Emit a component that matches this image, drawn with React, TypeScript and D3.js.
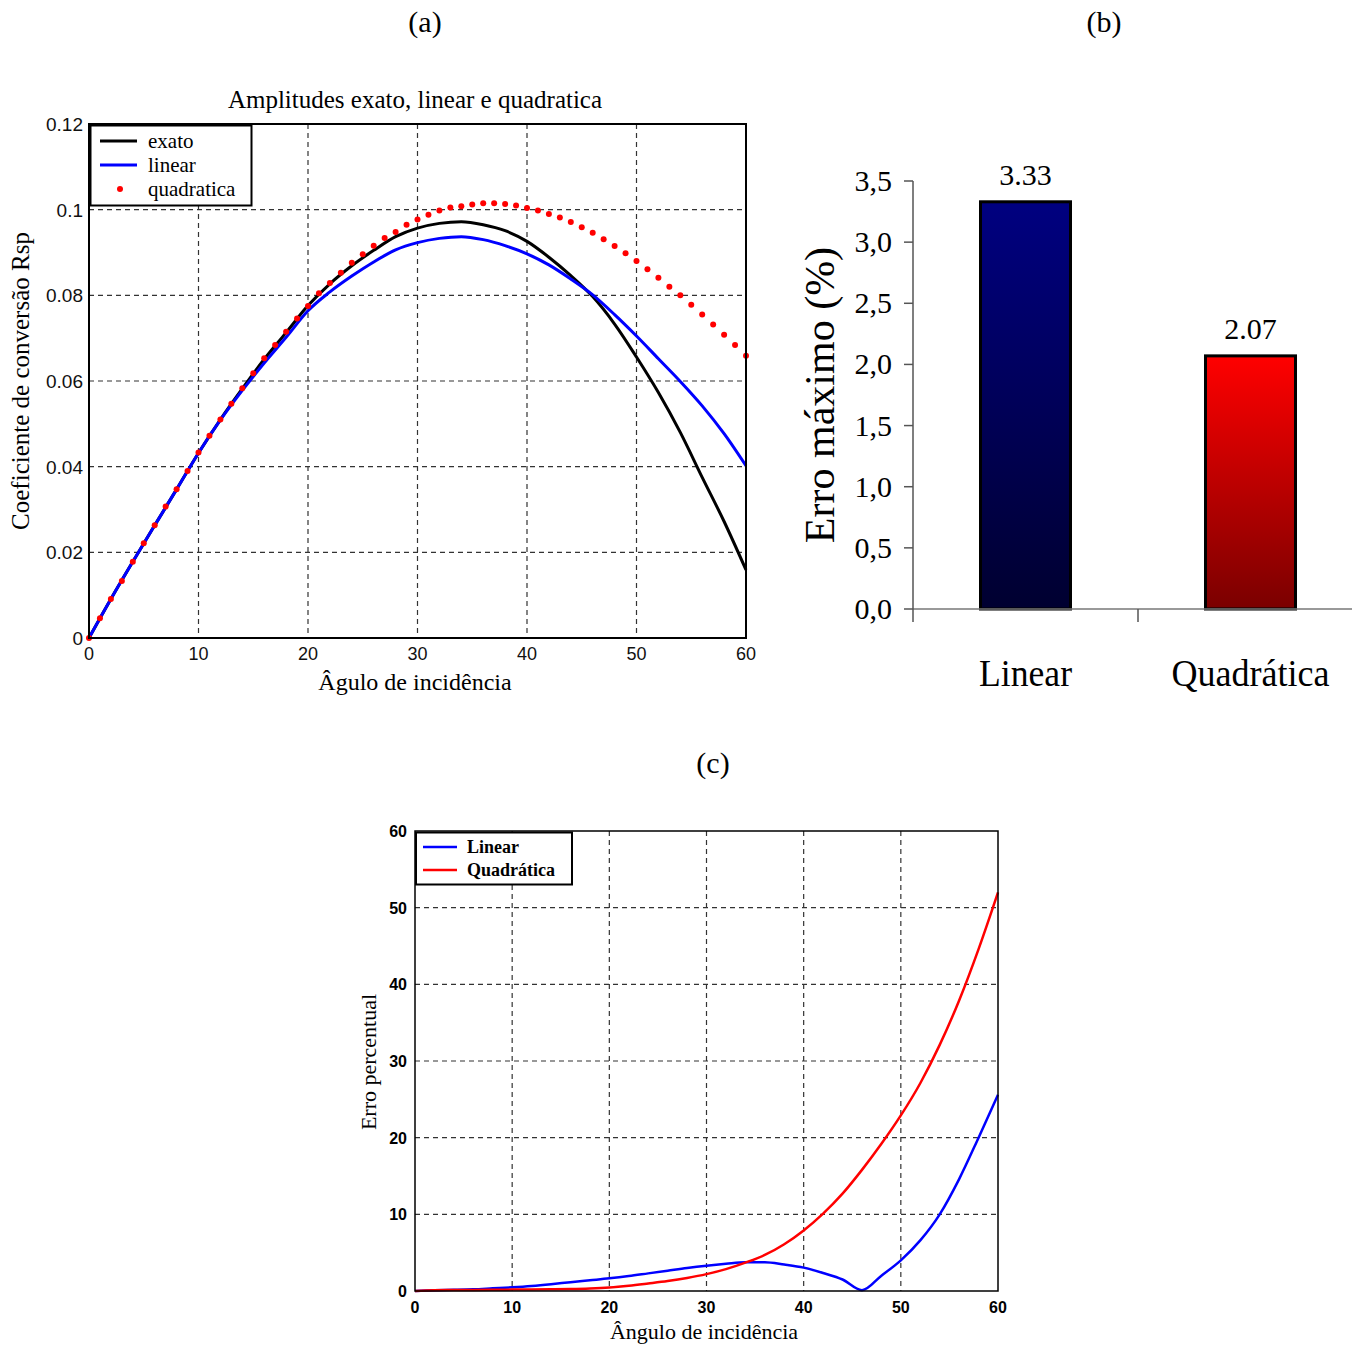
import React from 'react';
import * as d3 from 'd3';

const W = 1358;
const H = 1349;

// (a) amplitudes
const anglesA = [0, 2, 4, 6, 8, 10, 12, 14, 16, 18, 20, 22, 24, 26, 28, 30, 32, 34, 36, 38, 40, 42, 44, 46, 48, 50, 52, 54, 56, 58, 60];
const exato = [0, 0.0091, 0.0178, 0.0263, 0.0347, 0.0432, 0.051, 0.0582, 0.0651, 0.0713, 0.0776, 0.0827, 0.0869, 0.0905, 0.0937, 0.0957, 0.0968, 0.0972, 0.0965, 0.0951, 0.0926, 0.0889, 0.0846, 0.0797, 0.0733, 0.0656, 0.0573, 0.048, 0.0375, 0.0272, 0.0159];
const linear = [0, 0.0091, 0.0178, 0.0263, 0.0347, 0.0432, 0.0509, 0.0578, 0.0642, 0.0702, 0.0764, 0.0808, 0.0845, 0.0878, 0.0906, 0.0923, 0.0933, 0.0937, 0.093, 0.0916, 0.0897, 0.0871, 0.0838, 0.0801, 0.0755, 0.0705, 0.0652, 0.0599, 0.0542, 0.0477, 0.0402];
const anglesQ = [0, 1, 2, 3, 4, 5, 6, 7, 8, 9, 10, 11, 12, 13, 14, 15, 16, 17, 18, 19, 20, 21, 22, 23, 24, 25, 26, 27, 28, 29, 30, 31, 32, 33, 34, 35, 36, 37, 38, 39, 40, 41, 42, 43, 44, 45, 46, 47, 48, 49, 50, 51, 52, 53, 54, 55, 56, 57, 58, 59, 60];
const quadratica = [0, 0.0046, 0.0091, 0.0133, 0.0178, 0.0221, 0.0263, 0.0307, 0.0347, 0.039, 0.0433, 0.0472, 0.051, 0.0547, 0.0583, 0.0618, 0.0653, 0.0684, 0.0715, 0.0746, 0.0775, 0.0805, 0.0829, 0.0853, 0.0876, 0.0896, 0.0916, 0.0934, 0.0948, 0.0965, 0.0977, 0.0988, 0.0998, 0.1005, 0.1008, 0.1012, 0.1015, 0.1015, 0.1013, 0.101, 0.1004, 0.0998, 0.099, 0.0982, 0.0971, 0.0959, 0.0946, 0.0931, 0.0915, 0.0898, 0.088, 0.0861, 0.0841, 0.082, 0.08, 0.0778, 0.0755, 0.0732, 0.0708, 0.0684, 0.0659];
const ticksAx = [0, 10, 20, 30, 40, 50, 60];
const ticksAy = [0, 0.02, 0.04, 0.06, 0.08, 0.1, 0.12];
const tickLabelsAy = ['0', '0.02', '0.04', '0.06', '0.08', '0.1', '0.12'];

// (b) maximum error
const categories = ['Linear', 'Quadrática'];
const maxError = [3.33, 2.07];
const ticksB = [0, 0.5, 1, 1.5, 2, 2.5, 3, 3.5];
const tickLabelsB = ['0,0', '0,5', '1,0', '1,5', '2,0', '2,5', '3,0', '3,5'];

// (c) percent error
const anglesC = [0, 2, 4, 6, 8, 10, 12, 14, 16, 18, 20, 22, 24, 26, 28, 30, 32, 34, 36, 38, 40, 42, 44, 46, 48, 50, 52, 54, 56, 58, 60];
const errLinear = [0, 0.1, 0.15, 0.22, 0.35, 0.48, 0.65, 0.88, 1.15, 1.4, 1.65, 1.95, 2.3, 2.65, 3.0, 3.3, 3.55, 3.75, 3.75, 3.45, 3.05, 2.35, 1.5, 0.1, 2.0, 4.0, 6.6, 10.0, 14.6, 20.0, 25.6];
const errQuad = [0, 0.1, 0.12, 0.14, 0.16, 0.18, 0.2, 0.22, 0.25, 0.32, 0.45, 0.68, 0.98, 1.3, 1.7, 2.2, 2.85, 3.7, 4.7, 6.1, 7.9, 10.1, 12.7, 15.8, 19.2, 22.9, 27.1, 32.1, 37.9, 44.6, 52.0];
const ticksCx = [0, 10, 20, 30, 40, 50, 60];
const ticksCy = [0, 10, 20, 30, 40, 50, 60];

const serif = '"Liberation Serif", "Times New Roman", serif';
const sans = '"Liberation Sans", Arial, sans-serif';
const dash = { stroke: '#333', strokeWidth: 1.2, strokeDasharray: '5,4' };

function PanelA() {
  const x = d3.scaleLinear([0, 60], [89, 746]);
  const y = d3.scaleLinear([0, 0.12], [638, 124]);
  const line = d3.line<number>().x((d, i) => x(anglesA[i])).y(d => y(d)).curve(d3.curveMonotoneX);
  return (
    <g>
      {ticksAx.slice(1, -1).map(t => (
        <line key={'gx' + t} x1={x(t)} x2={x(t)} y1={124} y2={638} {...dash} />
      ))}
      {ticksAy.slice(1, -1).map(t => (
        <line key={'gy' + t} x1={89} x2={746} y1={y(t)} y2={y(t)} {...dash} />
      ))}
      <path d={line(exato) || ''} fill="none" stroke="#000" strokeWidth={3} />
      <path d={line(linear) || ''} fill="none" stroke="#0000ff" strokeWidth={3} />
      {quadratica.map((v, i) => (
        <circle key={'q' + i} cx={x(anglesQ[i])} cy={y(v)} r={3} fill="#ff0000" />
      ))}
      <rect x={89} y={124} width={657} height={514} fill="none" stroke="#000" strokeWidth={2} />
      {ticksAx.map(t => (
        <text key={'tx' + t} x={x(t)} y={660} textAnchor="middle" fontFamily={sans} fontSize={18} fill="#111">{t}</text>
      ))}
      {ticksAy.map((t, i) => (
        <text key={'ty' + t} x={83} y={y(t) + 7} textAnchor="end" fontFamily={sans} fontSize={19} fill="#111">{tickLabelsAy[i]}</text>
      ))}
      <text x={415} y={108} textAnchor="middle" fontFamily={serif} fontSize={25}>Amplitudes exato, linear e quadratica</text>
      <text x={415} y={690} textAnchor="middle" fontFamily={serif} fontSize={24}>Âgulo de incidência</text>
      <text transform="translate(29,381) rotate(-90)" textAnchor="middle" fontFamily={serif} fontSize={25}>Coeficiente de conversão Rsp</text>
      <g>
        <rect x={90.5} y={125.5} width={161} height={80} fill="#fff" stroke="#000" strokeWidth={2} />
        <line x1={100} x2={137} y1={141} y2={141} stroke="#000" strokeWidth={3} />
        <line x1={100} x2={137} y1={165} y2={165} stroke="#0000ff" strokeWidth={3} />
        <circle cx={120} cy={189} r={3} fill="#ff0000" />
        <text x={148} y={148} fontFamily={serif} fontSize={21}>exato</text>
        <text x={148} y={172} fontFamily={serif} fontSize={21}>linear</text>
        <text x={148} y={196} fontFamily={serif} fontSize={21}>quadratica</text>
      </g>
    </g>
  );
}

function PanelB() {
  const x = d3.scaleBand<string>().domain(categories).range([913, 1363]).paddingInner(0.6).paddingOuter(0.3);
  const y = d3.scaleLinear([0, 3.5], [609, 181]);
  const fills = ['url(#gradBlue)', 'url(#gradRed)'];
  const lengths = [93, 158];
  return (
    <g>
      <defs>
        <linearGradient id="gradBlue" x1="0" y1="0" x2="0" y2="1">
          <stop offset="0" stopColor="#000080" />
          <stop offset="1" stopColor="#000030" />
        </linearGradient>
        <linearGradient id="gradRed" x1="0" y1="0" x2="0" y2="1">
          <stop offset="0" stopColor="#ff0000" />
          <stop offset="1" stopColor="#7a0000" />
        </linearGradient>
      </defs>
      {categories.map((c, i) => (
        <g key={c}>
          <rect x={x(c)} y={y(maxError[i])} width={x.bandwidth()} height={y(0) - y(maxError[i])} fill={fills[i]} stroke="#000" strokeWidth={3} />
          <text x={(x(c) || 0) + x.bandwidth() / 2} y={y(maxError[i]) - 17} textAnchor="middle" fontFamily={serif} fontSize={30}>{maxError[i].toFixed(2)}</text>
          <text x={(x(c) || 0) + x.bandwidth() / 2} y={686} textAnchor="middle" fontFamily={serif} fontSize={38} textLength={lengths[i]} lengthAdjust="spacingAndGlyphs">{c}</text>
        </g>
      ))}
      <line x1={913} x2={1352} y1={609} y2={609} stroke="#777" strokeWidth={1.5} />
      <line x1={913} x2={913} y1={181} y2={622} stroke="#555" strokeWidth={1.5} />
      <line x1={1138} x2={1138} y1={609} y2={622} stroke="#555" strokeWidth={1.5} />
      {ticksB.map((t, i) => (
        <g key={'b' + t}>
          <line x1={904} x2={913} y1={y(t)} y2={y(t)} stroke="#555" strokeWidth={1.5} />
          <text x={892} y={y(t) + 10} textAnchor="end" fontFamily={serif} fontSize={30}>{tickLabelsB[i]}</text>
        </g>
      ))}
      <text transform="translate(834,395) rotate(-90)" textAnchor="middle" fontFamily={serif} fontSize={42}>Erro máximo (%)</text>
    </g>
  );
}

function PanelC() {
  const x = d3.scaleLinear([0, 60], [415, 998]);
  const y = d3.scaleLinear([0, 60], [1291, 831]);
  const line = d3.line<number>().x((d, i) => x(anglesC[i])).y(d => y(d)).curve(d3.curveMonotoneX);
  return (
    <g>
      {ticksCx.slice(1, -1).map(t => (
        <line key={'cx' + t} x1={x(t)} x2={x(t)} y1={831} y2={1291} {...dash} />
      ))}
      {ticksCy.slice(1, -1).map(t => (
        <line key={'cy' + t} x1={415} x2={998} y1={y(t)} y2={y(t)} {...dash} />
      ))}
      <path d={line(errLinear) || ''} fill="none" stroke="#0000ff" strokeWidth={2.5} />
      <path d={line(errQuad) || ''} fill="none" stroke="#ff0000" strokeWidth={2.5} />
      <rect x={415} y={831} width={583} height={460} fill="none" stroke="#000" strokeWidth={1.5} />
      {ticksCx.map(t => (
        <text key={'tcx' + t} x={x(t)} y={1313} textAnchor="middle" fontFamily={sans} fontWeight="bold" fontSize={16}>{t}</text>
      ))}
      {ticksCy.map(t => (
        <text key={'tcy' + t} x={407} y={y(t) + 6} textAnchor="end" fontFamily={sans} fontWeight="bold" fontSize={16}>{t}</text>
      ))}
      <text x={704} y={1339} textAnchor="middle" fontFamily={serif} fontSize={22}>Ângulo de incidência</text>
      <text transform="translate(376,1062) rotate(-90)" textAnchor="middle" fontFamily={serif} fontSize={22}>Erro percentual</text>
      <g>
        <rect x={416} y={832.5} width={156} height={52} fill="#fff" stroke="#000" strokeWidth={2} />
        <line x1={423} x2={457} y1={847} y2={847} stroke="#0000ff" strokeWidth={2.5} />
        <line x1={423} x2={457} y1={870} y2={870} stroke="#ff0000" strokeWidth={2.5} />
        <text x={467} y={853} fontFamily={serif} fontWeight="bold" fontSize={18}>Linear</text>
        <text x={467} y={876} fontFamily={serif} fontWeight="bold" fontSize={18}>Quadrática</text>
      </g>
    </g>
  );
}

export default function App() {
  return (
    <svg width={W} height={H} viewBox={`0 0 ${W} ${H}`} style={{ position: 'absolute', left: 0, top: 0, background: '#fff' }}>
      <rect width={W} height={H} fill="#fff" />
      <text x={425} y={32} textAnchor="middle" fontFamily={serif} fontSize={30}>(a)</text>
      <text x={1104} y={32} textAnchor="middle" fontFamily={serif} fontSize={30}>(b)</text>
      <text x={713} y={773} textAnchor="middle" fontFamily={serif} fontSize={30}>(c)</text>
      <PanelA />
      <PanelB />
      <PanelC />
    </svg>
  );
}
